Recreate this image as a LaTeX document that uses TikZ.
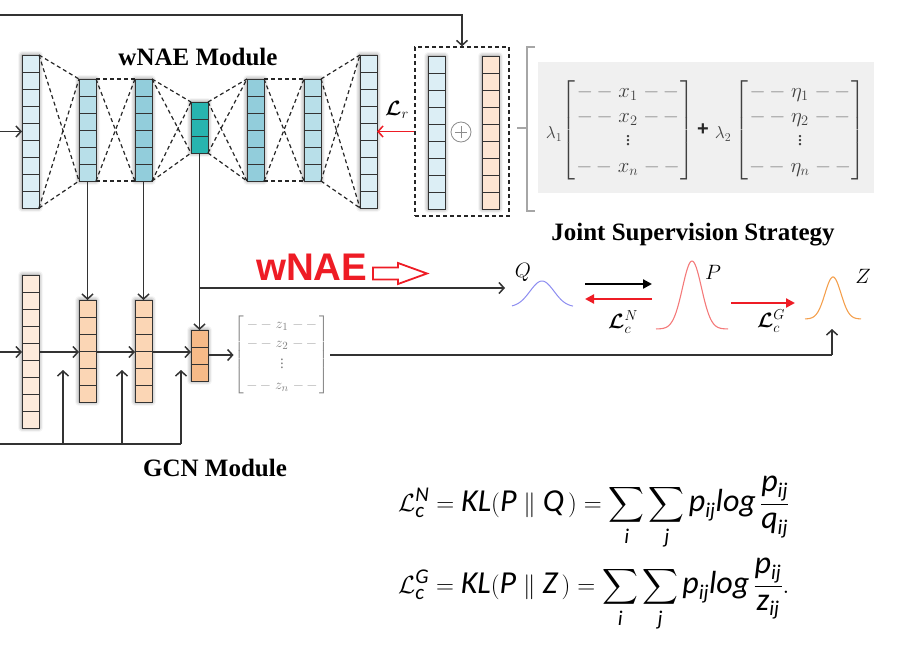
\documentclass[tikz,border=0pt]{standalone}
\usepackage{amsmath}
\usepackage[no-math]{fontspec}
\setmainfont{Liberation Serif}
\newfontfamily\sansb{Liberation Sans}
\newfontfamily\calib{Carlito}
\usetikzlibrary{arrows.meta,calc,shadows.blur}

\definecolor{bA}{HTML}{DCEEF5}
\definecolor{bB}{HTML}{B8DFE9}
\definecolor{bC}{HTML}{92CDDB}
\definecolor{bD}{HTML}{27B4AF}
\definecolor{oA}{HTML}{FDEBDC}
\definecolor{oB}{HTML}{FBD6B5}
\definecolor{oC}{HTML}{F6BA88}
\definecolor{oCat}{HTML}{FDE6D3}
\definecolor{wred}{HTML}{EE1C25}
\definecolor{lnc}{HTML}{333333}
\definecolor{qblue}{HTML}{8C8CF0}
\definecolor{pred}{HTML}{F47A7A}
\definecolor{zor}{HTML}{F4A04E}
\definecolor{panel}{HTML}{F0F0F0}

\newcommand\ct[1]{\mbox{\calib\itshape #1}}
\newcommand\cs[1]{\mbox{\calib\itshape\fontsize{21}{21}\selectfont #1}}
\newcommand\rowx[2]{{\color{#2}{-}\,{-}}\;#1\;{\color{#2}{-}\,{-}}}
\newcommand\bL{\boldsymbol{\mathcal{L}}}
\newcommand\bsum{\mathop{\mbox{\fontsize{24}{24}\selectfont$\displaystyle\sum$}}\limits}
\newcommand\vd{\raisebox{2pt}{$\vdots$}}

\tikzset{
  colbox/.style={draw=black!80, line width=1pt, minimum width=17pt, inner sep=0pt, outer sep=0pt, anchor=north west,
    blur shadow={shadow xshift=0pt, shadow yshift=0pt, shadow blur radius=4pt, shadow opacity=55}},
  cellline/.style={draw=black!80, line width=1pt},
  link/.style={draw=black!85, line width=1.2pt, dash pattern=on 4pt off 3pt},
  conn/.style={draw=lnc, line width=1.6pt},
  oarr/.style={conn, -{Straight Barb[length=5pt,width=11pt,line width=1.5pt]}},
  rarr/.style={draw=wred, line width=1.6pt, -{Straight Barb[length=5pt,width=11pt,line width=1.5pt]}},
  farr/.style={line width=2.2pt, -{Triangle[length=9pt,width=9pt]}},
  modlabel/.style={font=\fontsize{25}{28}\selectfont\bfseries, inner sep=0pt},
  mlabel/.style={font=\fontsize{20}{24}\selectfont, inner sep=0pt},
  matx/.style={font=\fontsize{20}{25}\selectfont, text=black!75, inner sep=0pt},
}

\newcommand\mkcol[5]{%
  \node[colbox, fill=#5, minimum height=#4*17pt] (#1) at (#2,#3) {};
  \pgfmathtruncatemacro\nsep{#4-1}
  \foreach \k in {1,...,\nsep} \draw[cellline] ($(#1.north west)+(0,\k*17)$) -- ++(17,0);
}

\begin{document}
\begin{tikzpicture}[x=1pt,y=-1pt]
\useasboundingbox (0,0) rectangle (910,656);

% ---------- wNAE module ----------
\mkcol{c1}{22}{55}{9}{bA}
\mkcol{c2}{79}{79}{6}{bB}
\mkcol{c3}{135}{79}{6}{bC}
\mkcol{c4}{191}{102}{3}{bD}
\mkcol{c5}{247}{79}{6}{bC}
\mkcol{c6}{304}{79}{6}{bB}
\mkcol{c7}{360}{55}{9}{bA}

\foreach \a/\b in {c1/c2,c2/c3,c3/c4,c4/c5,c5/c6,c6/c7}{
  \draw[link] (\a.north east) -- (\b.north west);
  \draw[link] (\a.north east) -- (\b.south west);
  \draw[link] (\a.south east) -- (\b.north west);
  \draw[link] (\a.south east) -- (\b.south west);
}

\node[modlabel] (wlab) at (198,57) {wNAE Module};

\coordinate (inA) at (0,131.5);
\draw[oarr] (inA) -- (c1.west);

% ---------- concat box ----------
\node[draw=black!85, line width=1.3pt, dash pattern=on 4pt off 3pt, minimum width=94pt, minimum height=169pt, inner sep=0pt] (cat) at (462,131.5) {};
\mkcol{cb}{428}{56}{9}{bA}
\mkcol{co}{482}{56}{9}{oCat}
\node[circle, draw=black!45, line width=0.8pt, minimum size=20pt, inner sep=0pt] (plus) at (461,132) {};
\draw[black!45, line width=0.8pt] ($(plus.center)+(-6,0)$) -- ($(plus.center)+(6,0)$);
\draw[black!45, line width=0.8pt] ($(plus.center)+(0,-6)$) -- ($(plus.center)+(0,6)$);

\coordinate (topL) at (0,15);
\draw[oarr] (topL) -- (cat.north |- topL) -- (cat.north);
\draw[rarr] (cat.west) -- (c7.east);
\node[font=\fontsize{22}{24}\selectfont, inner sep=0pt] (lossr) at (397,110) {$\bL_r$};

% ---------- joint supervision panel ----------
\draw[gray!70, line width=1.3pt] (535,47) -- (527,47) -- (527,211) -- (535,211);
\draw[gray!70, line width=1.3pt] (527,128) -- (517,128);
\fill[panel] (538,62) rectangle (874,193);
\node[font=\fontsize{18}{20}\selectfont, text=black!75, inner sep=0pt] (l1) at (554,134) {$\lambda_1$};
\node[matx] (m1) at (628,130)
  {$\arraycolsep=1pt\left[\begin{array}{c}\rowx{x_1}{black!45}\\ \rowx{x_2}{black!45}\\ \vd\\ \rowx{x_n}{black!45}\end{array}\right]$};
\node[font=\fontsize{20}{24}\selectfont\sansb\bfseries, text=black!85, inner sep=0pt] (pl) at (703,130) {+};
\node[font=\fontsize{18}{20}\selectfont, text=black!75, inner sep=0pt] (l2) at (723,134) {$\lambda_2$};
\node[matx] (m2) at (800,130)
  {$\arraycolsep=1pt\left[\begin{array}{c}\rowx{\eta_1}{black!45}\\ \rowx{\eta_2}{black!45}\\ \vd\\ \rowx{\eta_n}{black!45}\end{array}\right]$};
\node[modlabel] (jlab) at (693,235) {Joint Supervision Strategy};

% ---------- GCN module ----------
\mkcol{g1}{22}{275}{9}{oA}
\mkcol{g2}{79}{300}{6}{oB}
\mkcol{g3}{135}{300}{6}{oB}
\mkcol{g4}{191}{330}{3}{oC}
\node[modlabel] (glab) at (215,468) {GCN Module};

\coordinate (inG) at (0,352);
\draw[oarr] (inG) -- (inG -| g1.west);
\draw[oarr] (g1.east |- inG) -- (g2.west |- inG);
\draw[oarr] (g2.east |- inG) -- (g3.west |- inG);
\draw[oarr] (g3.east |- inG) -- (g4.west |- inG);

\draw[oarr] (c2.south) -- (g2.north);
\draw[oarr] (c3.south) -- (g3.north);
\draw[oarr] (c4.south) -- (g4.north);

\coordinate (bl) at (0,444);
\coordinate (a1) at (63,444);  \coordinate (t1) at (63,370);
\coordinate (a2) at (122,444); \coordinate (t2) at (122,370);
\coordinate (a3) at (181,444); \coordinate (t3) at (181,370);
\draw[conn] (bl) -- (a3);
\draw[oarr] (a1) -- (t1);
\draw[oarr] (a2) -- (t2);
\draw[oarr] (a3) -- (t3);

\node[font=\fontsize{15}{19}\selectfont, text=black!50, inner sep=1pt] (zm) at (282,355)
  {$\arraycolsep=2pt\left[\begin{array}{c}\rowx{z_1}{black!35}\\ \rowx{z_2}{black!35}\\ \vd\\ \rowx{z_n}{black!35}\end{array}\right]$};
\draw[oarr] (g4.east |- zm.west) -- (zm.west);

% ---------- wNAE red label ----------
\node[font=\fontsize{38.5}{40}\selectfont\sansb\bfseries, text=wred, inner sep=0pt, anchor=base west] (wnae) at (256,280) {wNAE};
\draw[wred, line width=1.8pt, line join=miter] (373,267.5) -- (398,267.5) -- (398,263) -- (427,273.5) -- (398,284) -- (398,279.5) -- (373,279.5) -- cycle;

% ---------- distributions ----------
\coordinate (jy) at (0,288);
\coordinate (j) at (c4.south |- jy);
\coordinate (qtip) at (505,288);
\draw[oarr] (j) -- (qtip);

\draw[qblue, line width=1pt] plot[domain=512:573, samples=60, smooth] (\x, {307-26*exp(-0.5*((\x-542)/12)^2)});
\draw[pred, line width=1.1pt] plot[domain=656:728, samples=80, smooth] (\x, {329-68*exp(-0.5*((\x-692)/9.5)^2)});
\draw[zor, line width=1.1pt] plot[domain=805:861, samples=70, smooth] (\x, {319-42*exp(-0.5*((\x-833)/8)^2)});

\node[mlabel] (Q) at (523,272) {$Q$};
\node[mlabel] (P) at (713,272) {$P$};
\node[mlabel] (Z) at (863,276) {$Z$};

\coordinate (k1) at (585,284); \coordinate (k2) at (652,284);
\coordinate (r1) at (652,299); \coordinate (r2) at (585,299);
\coordinate (s1) at (731,303); \coordinate (s2) at (795,303);
\draw[farr, black] (k1) -- (k2);
\draw[farr, wred] (r1) -- (r2);
\draw[farr, wred] (s1) -- (s2);
\node[font=\fontsize{22}{24}\selectfont, inner sep=0pt] (lcn) at (623,322) {$\bL_c^N$};
\node[font=\fontsize{22}{24}\selectfont, inner sep=0pt] (lcg) at (771,321) {$\bL_c^G$};

\coordinate (zc) at (832,355);
\coordinate (zt) at (832,329);
\draw[conn] (zm.east) -- (zc);
\draw[oarr] (zc) -- (zt);

% ---------- formulas ----------
\node[anchor=base west, font=\fontsize{32}{36}\selectfont, inner sep=0pt] (f1) at (398,511)
  {$\mathcal{L}_{\cs{c}}^{\cs{N}} = \ct{KL}(\ct{P}\parallel \ct{Q}\,) = \bsum_{\cs{i}}\bsum_{\cs{j}}\ct{p}_{\cs{ij}}\ct{log}\,\dfrac{\ct{p}_{\cs{ij}}}{\ct{q}_{\cs{ij}}}$};
\node[anchor=base west, font=\fontsize{32}{36}\selectfont, inner sep=0pt] (f2) at (398,593)
  {$\mathcal{L}_{\cs{c}}^{\cs{G}} = \ct{KL}(\ct{P}\parallel \ct{Z}\,) = \bsum_{\cs{i}}\bsum_{\cs{j}}\ct{p}_{\cs{ij}}\ct{log}\,\dfrac{\ct{p}_{\cs{ij}}}{\ct{z}_{\cs{ij}}}.$};
\end{tikzpicture}
\end{document}
